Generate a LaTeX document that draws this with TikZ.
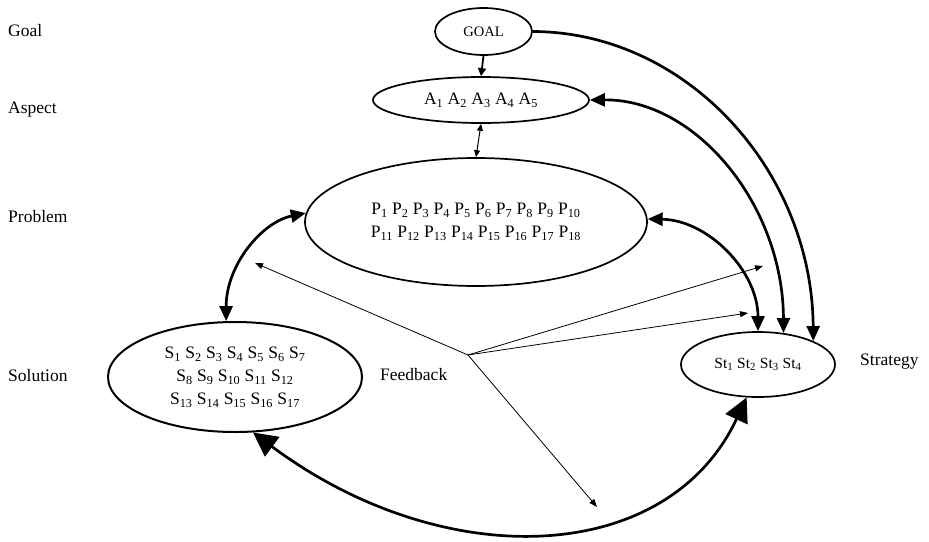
\documentclass[tikz,border=0pt]{standalone}
\usepackage{fontspec}
\setmainfont{Liberation Serif}
\usetikzlibrary{shapes.geometric,arrows.meta}
\newcommand\subs[1]{\textsubscript{#1}}
\begin{document}
\begin{tikzpicture}[x=1pt,y=-1pt,
  oval/.style={draw,ellipse,line width=1.7pt,inner sep=0pt,align=center,font=\fontsize{17.5}{23}\selectfont},
  lbl/.style={anchor=west,inner sep=0pt,font=\fontsize{17.5}{21}\selectfont},
  bigline/.style={line width=2.7pt},
  midtip/.style={-{Triangle[length=15pt,width=13pt]}},
  bothmid/.style={{Triangle[length=15pt,width=13pt]}-{Triangle[length=15pt,width=13pt]}},
  bothbig/.style={{Triangle[length=24pt,width=24pt]}-{Triangle[length=24pt,width=24pt]}},
  fb/.style={line width=0.8pt,-{Triangle[length=8pt,width=6pt]}},
]
\useasboundingbox (0,0) rectangle (929,541);

% side labels
\node[lbl] (lgoal) at (8,31) {Goal};
\node[lbl] (lasp) at (8,110) {Aspect};
\node[lbl] (lprob) at (8,217) {Problem};
\node[lbl] (lsol) at (8,376) {Solution};
\node[lbl] (lstr) at (860,362) {Strategy};
\node[lbl] (lfb) at (380,375) {Feedback};

% ellipses
\node[oval,minimum width=97,minimum height=47,font=\fontsize{14.5}{17}\selectfont] (goal) at (483.5,31.5) {GOAL};
\node[oval,minimum width=216,minimum height=46] (asp) at (481,100)
  {A\subs{1} A\subs{2} A\subs{3} A\subs{4} A\subs{5}};
\node[oval,minimum width=342,minimum height=128] (prob) at (476,222)
  {P\subs{1} P\subs{2} P\subs{3} P\subs{4} P\subs{5} P\subs{6} P\subs{7} P\subs{8} P\subs{9} P\subs{10}\\
   P\subs{11} P\subs{12} P\subs{13} P\subs{14} P\subs{15} P\subs{16} P\subs{17} P\subs{18}};
\node[oval,minimum width=254,minimum height=110,line width=2pt] (sol) at (235,377)
  {S\subs{1} S\subs{2} S\subs{3} S\subs{4} S\subs{5} S\subs{6} S\subs{7}\\
   S\subs{8} S\subs{9} S\subs{10} S\subs{11} S\subs{12}\\
   S\subs{13} S\subs{14} S\subs{15} S\subs{16} S\subs{17}};
\node[oval,minimum width=154,minimum height=65,font=\fontsize{15.5}{18}\selectfont] (str) at (758,364.5)
  {St\subs{1} St\subs{2} St\subs{3} St\subs{4}};

% vertical arrows
\draw[line width=1.8pt,-{Triangle[length=8pt,width=8pt]}] (goal.south) -- (asp.north);
\draw[line width=1pt,{Triangle[length=7pt,width=6pt]}-{Triangle[length=7pt,width=6pt]}] (asp.south) -- (prob.north);

% thick curves
\draw[bigline,midtip] (goal.east) .. controls (687,32) and (812,171) .. (str.23);
\draw[bigline,bothmid] (asp.east) .. controls (696,99) and (783,205) .. (str.51);
\draw[bigline,bothmid] (prob.1) .. controls (708,220) and (758,271) .. (str.north);
\draw[bigline,bothmid] (prob.177) .. controls (262,222) and (226,265) .. (sol.99);
\draw[bigline,bothbig] (sol.-72) .. controls (443,574) and (667,567) .. (str.-109);

% feedback arrows
\coordinate (hub) at (468,355);
\coordinate (f1) at (255,263);
\coordinate (f2) at (763,266);
\coordinate (f3) at (748,313);
\coordinate (f4) at (597,507);
\draw[fb] (hub) -- (f1);
\draw[fb] (hub) -- (f2);
\draw[fb] (hub) -- (f3);
\draw[fb] (hub) -- (f4);
\end{tikzpicture}
\end{document}
